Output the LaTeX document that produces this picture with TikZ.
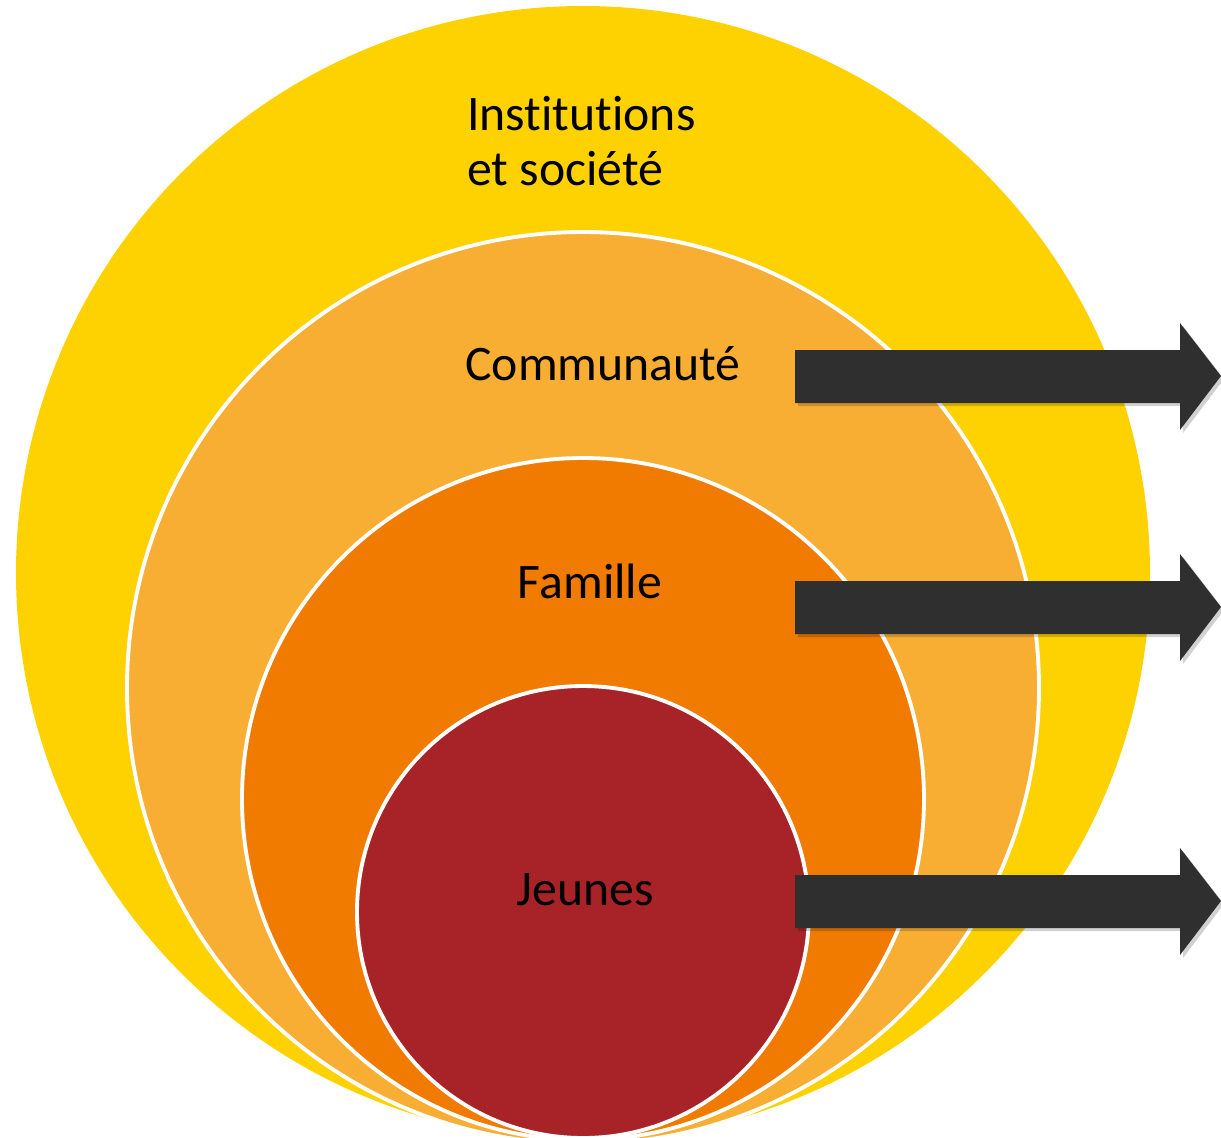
\documentclass[tikz,border=0pt]{standalone}
\usepackage{fontspec}
\setmainfont[Ligatures={NoCommon}]{Carlito}
\definecolor{cyellow}{HTML}{FDD200}
\definecolor{clorange}{HTML}{F8AE33}
\definecolor{corange}{HTML}{F07B00}
\definecolor{cred}{HTML}{A82328}
\definecolor{carrow}{HTML}{2F2F2F}
\begin{document}
\begin{tikzpicture}[x=0.02cm,y=-0.02cm,
  ring/.style={circle, draw=white, line width=2.2pt, inner sep=0pt},
  lbl/.style={font=\fontsize{28.3}{31.2}\selectfont, text=black, inner sep=0pt},
  bigarrow/.style={fill=carrow},
  arrowshadow/.style={fill=black, opacity=0.18}]
\useasboundingbox (0,0) rectangle (1221,1137);
% circles (all tangent near the bottom)
\node[circle, fill=cyellow, inner sep=0pt, minimum size=1134*0.02cm] (soc) at (583,573) {};
\node[ring, fill=clorange, minimum size=912*0.02cm] (com) at (583,688) {};
\node[ring, fill=corange, minimum size=682*0.02cm] (fam) at (583,799) {};
\node[ring, fill=cred, minimum size=452*0.02cm] (jeu) at (583,912) {};
% labels
\node[lbl, anchor=base west, align=left] (tsoc) at (467,185) {Institutions\\et société};
\node[lbl, anchor=base] (tcom) at (603,380) {Communauté};
\node[lbl, anchor=base] (tfam) at (590,598) {Famille};
\node[lbl, anchor=base] (tjeu) at (585,905) {Jeunes};
% arrows
\foreach \yc/\nm in {376/a1, 607/a2, 901/a3}{
  \fill[arrowshadow] (798,\yc-26+3) -- (1183,\yc-26+3) -- (1183,\yc-53+3) -- (1224,\yc+3) -- (1183,\yc+54+3) -- (1183,\yc+27+3) -- (798,\yc+27+3) -- cycle;
  \fill[bigarrow] (795,\yc-26) -- (1180,\yc-26) -- (1180,\yc-53) -- (1221,\yc) -- (1180,\yc+54) -- (1180,\yc+27) -- (795,\yc+27) -- cycle;
  \coordinate (\nm) at (1221,\yc);
}
\end{tikzpicture}
\end{document}
